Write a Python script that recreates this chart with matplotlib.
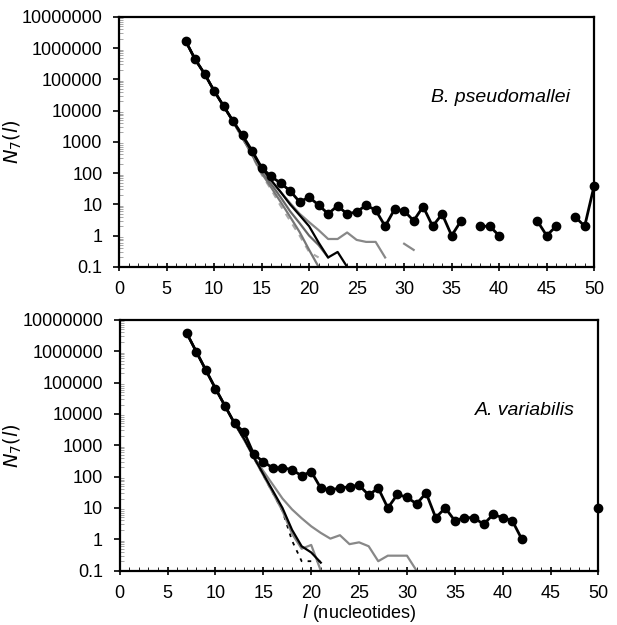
import numpy as np
import matplotlib.pyplot as plt
from matplotlib.ticker import FixedLocator, LogLocator, NullFormatter

plt.rcParams['font.family'] = ['Liberation Sans', 'DejaVu Sans']

# ---- B. pseudomallei (top) ----
bp_len = [7, 8, 9, 10, 11, 12, 13, 14, 15, 16, 17, 18, 19, 20, 21, 22, 23, 24, 25,
          26, 27, 28, 29, 30, 31, 32, 33, 34, 35, 36, 37, 38, 39, 40, 41, 42, 43,
          44, 45, 46, 47, 48, 49, 50]
bp_obs = [1.7e6, 4.4e5, 1.5e5, 4.3e4, 1.4e4, 4.6e3, 1.6e3, 520, 150, 78, 48, 27,
          12, 17, 9.5, 5, 9, 4.9, 5.8, 9.3, 6.6, 2, 7, 6.2, 3, 8.5, 2, 4.9, 1, 3,
          np.nan, 2, 2, 1, np.nan, np.nan, np.nan, 3, 1, 2, np.nan, 4, 2, 40]

bp_mod_len = list(range(7, 32))
bp_mod_black = [1.7e6, 4.4e5, 1.5e5, 4.3e4, 1.4e4, 4.6e3, 1.5e3, 480, 150, 60, 25,
                10, 4.5, 2, 0.6, 0.2, 0.3, 0.1] + [np.nan] * 7
bp_mod_gray1 = [1.7e6, 4.4e5, 1.5e5, 4.3e4, 1.4e4, 4.5e3, 1.4e3, 430, 130, 55, 25,
                11, 5, 2.7, 1.5, 0.78, 0.78, 1.26, 0.73, 0.63, 0.63, 0.2, np.nan,
                0.55, 0.35]
bp_mod_gray2 = [1.7e6, 4.4e5, 1.5e5, 4.3e4, 1.4e4, 4.5e3, 1.35e3, 400, 120, 45, 17,
                6, 2.5, 1, 0.5, 0.2] + [np.nan] * 9
bp_mod_gray3 = [1.7e6, 4.4e5, 1.5e5, 4.3e4, 1.4e4, 4.4e3, 1.3e3, 380, 100, 35, 12,
                4, 1.3, 0.35, 0.1] + [np.nan] * 10
bp_mod_dash = [1.7e6, 4.4e5, 1.5e5, 4.3e4, 1.4e4, 4.4e3, 1.3e3, 360, 90, 30, 9,
               3, 1, 0.3, 0.2] + [np.nan] * 10

# ---- A. variabilis (bottom) ----
av_len = list(range(7, 51))
av_obs = [3.8e6, 9.7e5, 2.5e5, 6.5e4, 1.8e4, 5e3, 2.6e3, 520, 300, 187, 195, 165,
          107, 145, 43, 38, 43, 48, 53, 26, 43, 10, 27, 22, 13.5, 30, 4.9, 10, 3.9,
          4.9, 4.9, 3, 6.2, 4.9, 3.9, 1] + [np.nan] * 7 + [10]

av_mod_len = list(range(7, 32))
av_mod_gray1 = [3.8e6, 9.7e5, 2.5e5, 6.5e4, 1.8e4, 5e3, 1.5e3, 450, 150, 55, 20, 9,
                4.7, 2.6, 1.6, 1.05, 1.35, 0.7, 0.8, 0.6, 0.2, 0.3, 0.3, 0.3, 0.1]
av_mod_black = [3.8e6, 9.7e5, 2.5e5, 6.5e4, 1.8e4, 5e3, 1.6e3, 420, 120, 35, 10,
                2, 0.6, 0.38, 0.18] + [np.nan] * 10
av_mod_gray2 = [3.8e6, 9.7e5, 2.5e5, 6.5e4, 1.8e4, 5e3, 1.5e3, 400, 110, 30, 8,
                1.5, 0.5, 0.66, 0.1] + [np.nan] * 10
av_mod_dot = [3.8e6, 9.7e5, 2.5e5, 6.5e4, 1.8e4, 5e3, 1.5e3, 400, 110, 30, 8,
              0.9, 0.2, 0.2, 0.2] + [np.nan] * 10

fig = plt.figure(figsize=(6.17, 6.25), dpi=100)
ax1 = fig.add_axes([0.193, 0.573, 0.77, 0.4])
ax2 = fig.add_axes([0.194, 0.087, 0.776, 0.401])


def style(ax):
    ax.set_yscale('log')
    ax.set_ylim(0.1, 1e7)
    ax.set_xlim(0, 50)
    ax.set_xticks(range(0, 51, 5))
    ax.xaxis.set_minor_locator(FixedLocator(range(0, 51)))
    ax.yaxis.set_major_locator(FixedLocator([10.0 ** k for k in range(-1, 8)]))
    ax.set_yticklabels(['0.1', '1', '10', '100', '1000', '10000', '100000',
                        '1000000', '10000000'])
    ax.yaxis.set_minor_locator(LogLocator(base=10, subs=np.arange(2, 10), numticks=20))
    ax.yaxis.set_minor_formatter(NullFormatter())
    ax.tick_params(axis='both', labelsize=13, width=1.2)
    ax.tick_params(axis='x', which='major', direction='inout', length=6, pad=7)
    ax.tick_params(axis='x', which='minor', direction='in', length=3)
    ax.tick_params(axis='y', which='major', direction='out', length=4, pad=8)
    ax.tick_params(axis='y', which='minor', direction='in', length=3, color='#999999')
    for s in ax.spines.values():
        s.set_linewidth(1.6)
    ax.set_ylabel(r'$N_7(l)$', fontsize=14)
    ax.yaxis.set_label_coords(-0.2, 0.5)


style(ax1)
style(ax2)

ax1.plot(bp_mod_len, bp_mod_dash, color='#aaaaaa', lw=1.5, ls=(0, (3, 3)))
ax1.plot(bp_mod_len, bp_mod_gray3, color='#777777', lw=1.6)
ax1.plot(bp_mod_len, bp_mod_gray2, color='#666666', lw=1.6)
ax1.plot(bp_mod_len, bp_mod_gray1, color='#888888', lw=1.6)
ax1.plot(bp_mod_len, bp_mod_black, color='black', lw=1.6)
ax1.plot(bp_len, bp_obs, color='black', lw=2, marker='o', ms=6, clip_on=False)
ax1.text(0.95, 0.676, 'B. pseudomallei', transform=ax1.transAxes, ha='right',
         va='center', fontsize=14, style='italic')

ax2.plot(av_mod_len, av_mod_dot, color='black', lw=1.3, ls=(0, (2, 3)))
ax2.plot(av_mod_len, av_mod_gray2, color='#888888', lw=1.6)
ax2.plot(av_mod_len, av_mod_gray1, color='#888888', lw=1.6)
ax2.plot(av_mod_len, av_mod_black, color='black', lw=1.6)
ax2.plot(av_len, av_obs, color='black', lw=2, marker='o', ms=6, clip_on=False)
ax2.text(0.95, 0.64, 'A. variabilis', transform=ax2.transAxes, ha='right',
         va='center', fontsize=14, style='italic')
ax2.set_xlabel(r'$l$ (nucleotides)', fontsize=13, labelpad=0)

fig.savefig('out.png', dpi=100)
